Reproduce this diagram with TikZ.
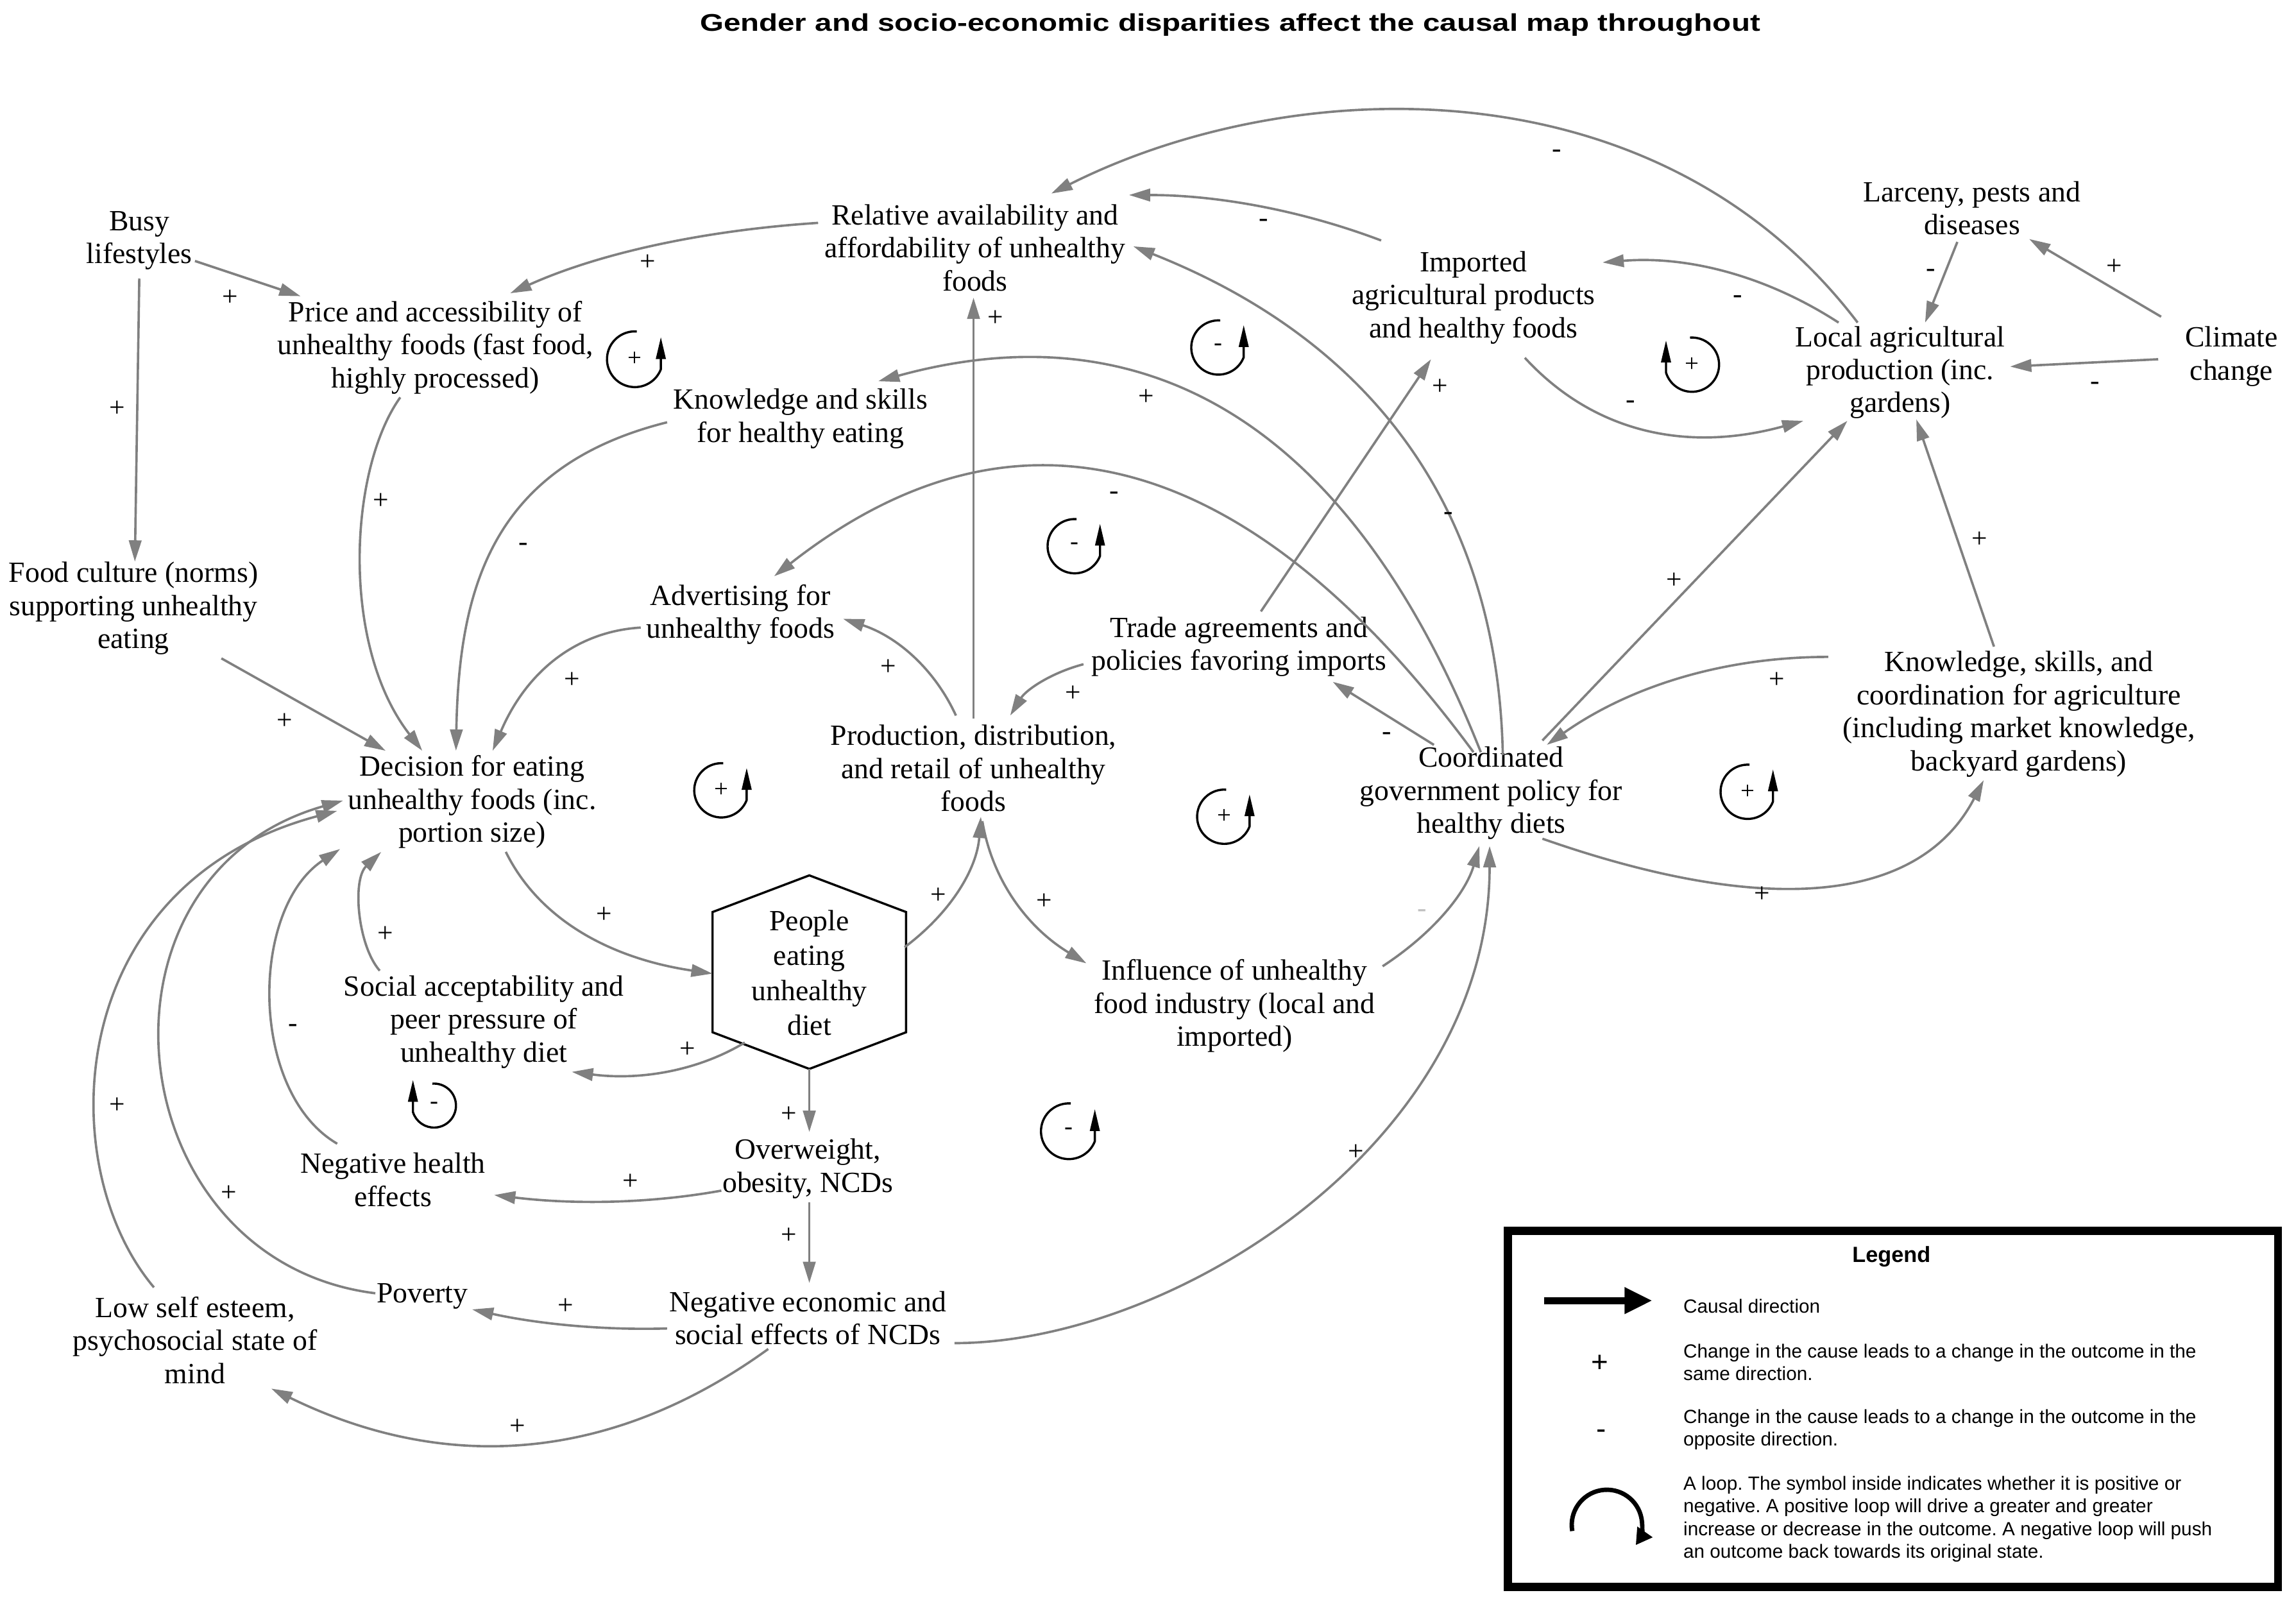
\documentclass[tikz,border=0pt]{standalone}
\usepackage{fontspec}
\usepackage{graphicx}
\setmainfont{Liberation Serif}
\setsansfont{Liberation Sans}
\usetikzlibrary{arrows.meta}
\frenchspacing
\tikzset{
 lbl/.style={font=\fontsize{20}{22.5}\selectfont, align=center, inner sep=0pt},
 sgn/.style={font=\fontsize{19}{19}\selectfont, inner sep=0pt},
 lsgn/.style={font=\fontsize{17}{17}\selectfont, inner sep=0pt},
 arr/.style={draw=black!50, line width=1.6pt, -{Triangle[length=14.5pt,width=8.5pt]}},
 loopline/.style={draw=black, line width=1.5pt, -{Triangle[length=15pt,width=6.5pt]}},
 hexl/.style={draw=black, line width=1.5pt},
 lgt/.style={font=\sffamily\fontsize{13}{15.4}\selectfont, align=left, inner sep=0pt, anchor=west},
 loopR/.pic={\begin{scope}[yscale=-1]\draw[loopline] (86:#1) arc[start angle=86,end angle=339,radius=#1] -- ++(0,22);\end{scope}},
 loopL/.pic={\begin{scope}[yscale=-1]\draw[loopline] (94:#1) arc[start angle=94,end angle=-163,radius=#1] -- ++(0,22);\end{scope}}
}
\begin{document}
\begin{tikzpicture}[x=1pt,y=-1pt]
\useasboundingbox (0,0) rectangle (1566,1092.5);
% title
\node[font=\sffamily\bfseries\fontsize{16.5}{16.5}\selectfont, inner sep=0pt] (title) at (839,17) {\scalebox{1.26}[1]{Gender and socio-economic disparities affect the causal map throughout}};
% variables
\node[lbl] (busy) at (95,164) {Busy\\lifestyles};
\node[lbl] (price) at (297,237) {Price and accessibility of\\unhealthy foods (fast food,\\highly processed)};
\node[lbl] (rel) at (665,169) {Relative availability and\\affordability of unhealthy\\foods};
\node[lbl] (imp) at (1005,203) {Imported\\agricultural products\\and healthy foods};
\node[lbl] (larc) at (1345,142) {Larceny, pests and\\diseases};
\node[lbl] (local) at (1296,254) {Local agricultural\\production (inc.\\gardens)};
\node[lbl] (clim) at (1522,243) {Climate\\change};
\node[lbl] (kse) at (546,285.5) {Knowledge and skills\\for healthy eating};
\node[lbl] (fcult) at (91,415) {Food culture (norms)\\supporting unhealthy\\eating};
\node[lbl] (adv) at (505,419) {Advertising for\\unhealthy foods};
\node[lbl] (trade) at (845,441) {Trade agreements and\\policies favoring imports};
\node[lbl] (prod) at (664,524) {Production, distribution,\\and retail of unhealthy\\foods};
\node[lbl] (coord) at (1017,541) {Coordinated\\government policy for\\healthy diets};
\node[lbl] (kagr) at (1377,487) {Knowledge, skills, and\\coordination for agriculture\\(including market knowledge,\\backyard gardens)};
\node[lbl] (dec) at (322,547) {Decision for eating\\unhealthy foods (inc.\\portion size)};
\node[lbl] (soc) at (330,697) {Social acceptability and\\peer pressure of\\unhealthy diet};
\node[lbl] (infl) at (842,686) {Influence of unhealthy\\food industry (local and\\imported)};
\node[lbl] (nhe) at (268,804.5) {Negative health\\effects};
\node[lbl] (ow) at (551,797) {Overweight,\\obesity, NCDs};
\node[lbl] (pov) at (288,884) {Poverty};
\node[lbl] (nec) at (551,899) {Negative economic and\\social effects of NCDs};
\node[lbl] (low) at (133,914) {Low self esteem,\\psychosocial state of\\mind};
\node[lbl, font=\fontsize{20}{23.7}\selectfont] (ppl) at (552,663.5) {People\\eating\\unhealthy\\diet};
\draw[hexl] ([shift={(0,-66.5)}]ppl.center) -- ([shift={(66,-41.5)}]ppl.center) -- ([shift={(66,40.5)}]ppl.center) -- ([shift={(0,65.5)}]ppl.center) -- ([shift={(-66,40.5)}]ppl.center) -- ([shift={(-66,-41.5)}]ppl.center) -- cycle;
% connectors
\draw[arr] ([shift={(38,14)}]busy.center) -- ([shift={(-92,-35)}]price.center);
\draw[arr] ([shift={(0,26)}]busy.center) -- ([shift={(1,-32)}]fcult.center);
\draw[arr] ([shift={(-107,-17)}]rel.center) .. controls +(-80.7,5.3) and +(59.3,-26.7) .. ([shift={(51,-37)}]price.center);
\draw[arr] ([shift={(-29,-34)}]local.center) .. controls +(-137,-180) and +(163,-82) .. ([shift={(52,-37)}]rel.center);
\draw[arr] ([shift={(-63,-39)}]imp.center) .. controls +(-54.7,-20.7) and +(60,0) .. ([shift={(105,-36)}]rel.center);
\draw[arr] ([shift={(8,-26)}]coord.center) .. controls +(-3.3,-166) and +(164.7,65.3) .. ([shift={(108,-1)}]rel.center);
\draw[arr] ([shift={(-7,-28)}]coord.center) .. controls +(-87.3,-220) and +(186.7,-51.3) .. ([shift={(53,-25.5)}]kse.center);
\draw[arr] ([shift={(-12,-28)}]coord.center) .. controls +(-154,-208.7) and +(164,-128.7) .. ([shift={(23,-26)}]adv.center);
\draw[arr] ([shift={(15,-24)}]trade.center) -- ([shift={(-29,42)}]imp.center);
\draw[arr] ([shift={(35,41)}]imp.center) .. controls +(46.7,50.7) and +(-80,22) .. ([shift={(-66,33)}]local.center);
\draw[arr] ([shift={(-42,-34)}]local.center) .. controls +(-49.3,-32) and +(58,-4.7) .. ([shift={(88,-24)}]imp.center);
\draw[arr] ([shift={(-10,23)}]larc.center) -- ([shift={(17,-34)}]local.center);
\draw[arr] ([shift={(-48,-27)}]clim.center) -- ([shift={(39,21)}]larc.center);
\draw[arr] ([shift={(-50,2)}]clim.center) -- ([shift={(75,-4)}]local.center);
\draw[arr] ([shift={(-17,-46)}]kagr.center) -- ([shift={(11,32)}]local.center);
\draw[arr] ([shift={(35,-36)}]coord.center) -- ([shift={(-36,33)}]local.center);
\draw[arr] ([shift={(-130,-39)}]kagr.center) .. controls +(-71.3,0) and +(56.7,-40) .. ([shift={(38,-33)}]coord.center);
\draw[arr] ([shift={(35,31)}]coord.center) .. controls +(158,55.3) and +(-42.7,82) .. ([shift={(-24,45)}]kagr.center);
\draw[arr] ([shift={(-39,-33)}]coord.center) -- ([shift={(64,24)}]trade.center);
\draw[arr] ([shift={(-106,12)}]trade.center) .. controls +(-22.7,6) and +(10.7,-17.3) .. ([shift={(25,-36)}]prod.center);
\draw[arr] ([shift={(0,-34)}]prod.center) -- ([shift={(-1,34)}]rel.center);
\draw[arr] ([shift={(-12,-36)}]prod.center) .. controls +(-14.7,-32) and +(36.7,12) .. ([shift={(70,3)}]adv.center);
\draw[arr] ([shift={(-68,9)}]adv.center) .. controls +(-44.7,2.7) and +(22.7,-53.3) .. ([shift={(14,-35)}]dec.center);
\draw[arr] ([shift={(-91,2.5)}]kse.center) .. controls +(-120,30) and +(2,-110) .. ([shift={(-11,-35)}]dec.center);
\draw[arr] ([shift={(-24,34)}]price.center) .. controls +(-35,49) and +(-56,-72) .. ([shift={(-34,-35)}]dec.center);
\draw[arr] ([shift={(60,34)}]fcult.center) -- ([shift={(-59,-35)}]dec.center);
\draw[arr] ([shift={(23,34)}]dec.center) .. controls +(22,44.7) and +(-72,-10.7) .. ([shift={(-66,0.5)}]ppl.center);
\draw[arr] ([shift={(-71,-35)}]soc.center) .. controls +(-15,-17) and +(-20,19) .. ([shift={(-62,34)}]dec.center);
\draw[arr] ([shift={(-44,47.5)}]ppl.center) .. controls +(-32,19.3) and +(46.7,6) .. ([shift={(60,34)}]soc.center);
\draw[arr] ([shift={(65,-17.5)}]ppl.center) .. controls +(32,-24) and +(-2.7,35.3) .. ([shift={(5,33)}]prod.center);
\draw[arr] ([shift={(6,36)}]prod.center) .. controls +(6.7,40) and +(-40.7,-24.7) .. ([shift={(-101,-29)}]infl.center);
\draw[arr] ([shift={(101,-27)}]infl.center) .. controls +(34.7,-22.7) and +(-9.3,32) .. ([shift={(-8,36)}]coord.center);
\draw[arr] ([shift={(100,17)}]nec.center) .. controls +(149,0) and +(0,203) .. ([shift={(-1,36)}]coord.center);
\draw[arr] ([shift={(0,65.5)}]ppl.center) -- ([shift={(1,-25)}]ow.center);
\draw[arr] ([shift={(1,23)}]ow.center) -- ([shift={(1,-24)}]nec.center);
\draw[arr] ([shift={(-59,15)}]ow.center) .. controls +(-48,8.7) and +(55.3,6.7) .. ([shift={(69,10.5)}]nhe.center);
\draw[arr] ([shift={(-38,-24.5)}]nhe.center) .. controls +(-60,-35) and +(-62,41) .. ([shift={(-90,32)}]dec.center);
\draw[arr] ([shift={(-96,7)}]nec.center) .. controls +(-43.3,1.3) and +(45.3,10) .. ([shift={(34,9)}]pov.center);
\draw[arr] ([shift={(-32,-2)}]pov.center) .. controls +(-176,-22) and +(-182,52) .. ([shift={(-88,-1)}]dec.center);
\draw[arr] ([shift={(-28,-36)}]low.center) .. controls +(-70,-83) and +(-187,50) .. ([shift={(-92,6)}]dec.center);
\draw[arr] ([shift={(-27,21)}]nec.center) .. controls +(-106,76.7) and +(120,58.7) .. ([shift={(52,33)}]low.center);
% polarity signs
\node[sgn] (s1) at (157,203) {+};
\node[sgn] (s2) at (80,279) {+};
\node[sgn] (s3) at (442,179) {+};
\node[sgn] (s4) at (1062,105) {-};
\node[sgn] (s5) at (862,152) {-};
\node[sgn] (s6) at (988,352) {-};
\node[sgn] (s7) at (782,271) {+};
\node[sgn] (s8) at (760,338) {-};
\node[sgn] (s9) at (982,264) {+};
\node[sgn] (s10) at (1112,276) {-};
\node[sgn] (s11) at (1185,204) {-};
\node[sgn] (s12) at (1317,186) {-};
\node[sgn] (s13) at (1442,182) {+};
\node[sgn] (s14) at (1429,263) {-};
\node[sgn] (s15) at (1350,368) {+};
\node[sgn] (s16) at (1142,396) {+};
\node[sgn] (s17) at (1212,464) {+};
\node[sgn] (s18) at (1202,610) {+};
\node[sgn] (s19) at (946,502) {-};
\node[sgn] (s20) at (732,473) {+};
\node[sgn] (s21) at (679,217) {+};
\node[sgn] (s22) at (606,455) {+};
\node[sgn] (s23) at (390,464) {+};
\node[sgn] (s24) at (357,373) {-};
\node[sgn] (s25) at (260,342) {+};
\node[sgn] (s26) at (194,492) {+};
\node[sgn] (s27) at (412,624) {+};
\node[sgn] (s28) at (263,637) {+};
\node[sgn] (s29) at (469,716) {+};
\node[sgn] (s30) at (640,611) {+};
\node[sgn] (s31) at (712,615) {+};
\node[sgn, text=black!25] (s32) at (970,623) {-};
\node[sgn] (s33) at (925,786) {+};
\node[sgn] (s34) at (538,760) {+};
\node[sgn] (s35) at (538,843) {+};
\node[sgn] (s36) at (430,806) {+};
\node[sgn] (s37) at (200,701) {-};
\node[sgn] (s38) at (386,891) {+};
\node[sgn] (s39) at (156,814) {+};
\node[sgn] (s40) at (80,754) {+};
\node[sgn] (s41) at (353,973) {+};
% loop symbols
\pic at (433,245) {loopR=19};     \node[lsgn] (lp1) at (433,245) {+};
\pic at (831,237) {loopR=18.5};   \node[lsgn] (lp2) at (831,237) {-};
\pic at (733,372.5) {loopR=18.5}; \node[lsgn] (lp3) at (733,372.5) {-};
\pic at (1154,248.7) {loopL=18.5};\node[lsgn] (lp4) at (1154,248.7) {+};
\pic at (492,539) {loopR=18.5};   \node[lsgn] (lp5) at (492,539) {+};
\pic at (835,557) {loopR=18.5};   \node[lsgn] (lp6) at (835,557) {+};
\pic at (1192,540) {loopR=18.5};  \node[lsgn] (lp7) at (1192,540) {+};
\pic at (296,754) {loopL=15};     \node[lsgn] (lp8) at (296,754) {-};
\pic at (729,771.5) {loopR=19};   \node[lsgn] (lp9) at (729,771.5) {-};
% legend
\node[draw, line width=5.5pt, minimum width=525.3pt, minimum height=242.9pt, inner sep=0pt, outer sep=0pt, anchor=north west] (lgbox) at (1028.5,839.4) {};
\node[font=\sffamily\bfseries\fontsize{15}{15}\selectfont, inner sep=0pt] (lgtitle) at (1290,857) {Legend};
\coordinate (la1) at (1053,887);
\coordinate (la2) at (1127,887);
\draw[line width=5pt, -{Triangle[length=19pt,width=17pt]}] (la1) -- (la2);
\node[lgt] (lg1) at (1148,891) {Causal direction};
\node[font=\sffamily\fontsize{20}{20}\selectfont, inner sep=0pt] (lgp) at (1091,930) {+};
\node[lgt] (lg2) at (1148,929) {Change in the cause leads to a change in the outcome in the\\same direction.};
\node[font=\sffamily\fontsize{20}{20}\selectfont, inner sep=0pt] (lgm) at (1092,978) {-};
\node[lgt] (lg3) at (1148,975) {Change in the cause leads to a change in the outcome in the\\opposite direction.};
\node[lgt] (lg4) at (1148,1036) {A loop. The symbol inside indicates whether it is positive or\\negative. A positive loop will drive a greater and greater\\increase or decrease in the outcome. A negative loop will push\\an outcome back towards its original state.};
\begin{scope}[shift={(1096,1040)}, yscale=-1]
\draw[line width=3pt, -{Triangle[length=11pt,width=12pt]}] (190:24) arc[start angle=190, end angle=-35, radius=24];
\end{scope}
\end{tikzpicture}
\end{document}
